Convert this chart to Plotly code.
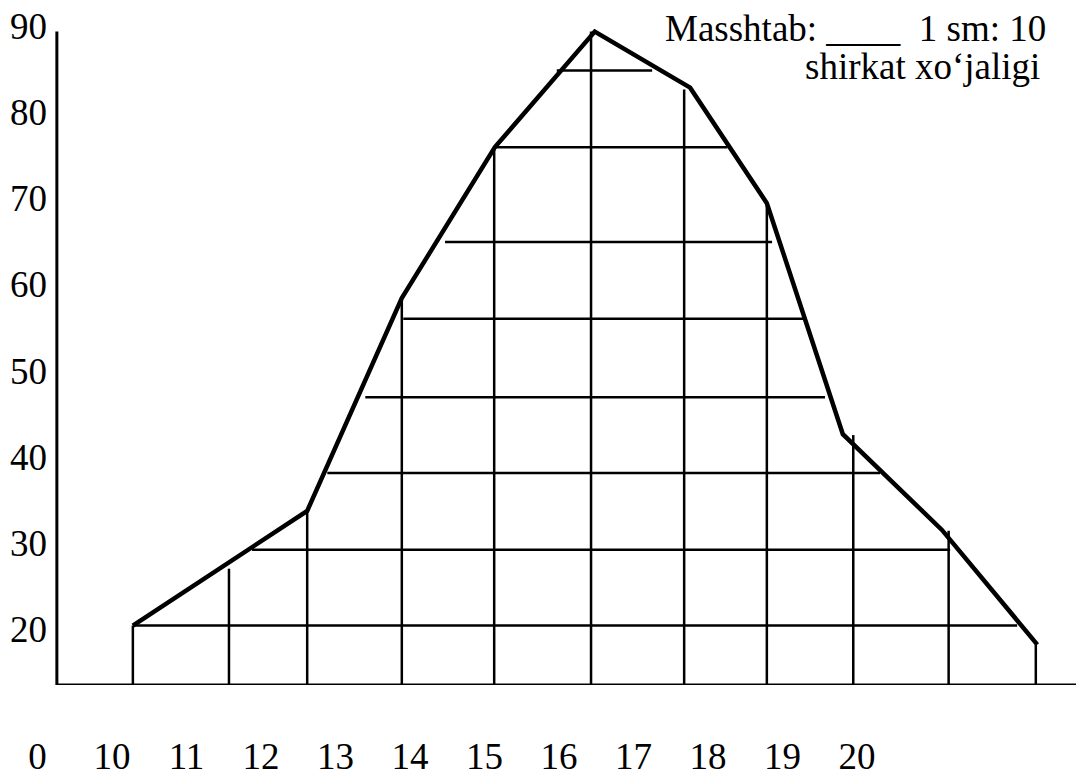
import plotly.graph_objects as go

# ---- data (x in label units: "0" sits at 9, then 10..20) ----
x_tickvals = [9, 10, 11, 12, 13, 14, 15, 16, 17, 18, 19, 20]
x_ticktext = ["0", "10", "11", "12", "13", "14", "15", "16", "17", "18", "19", "20"]
y_tickvals = [20, 30, 40, 50, 60, 70, 80, 90]

# polygon (thick outline)
poly_x = [10.28, 12.62, 13.89, 15.14, 16.48, 17.76, 18.79, 19.81, 21.14, 22.42]
poly_y = [20.2, 33.5, 58.2, 75.7, 89.1, 82.6, 69.2, 42.4, 31.3, 18.0]

# vertical grid lines: x position and top value (they start on the base axis)
vert_x = [10.28, 11.57, 12.62, 13.89, 15.13, 16.43, 17.68, 18.79, 19.95, 21.23, 22.40]
vert_top = [20.2, 26.8, 33.5, 58.2, 75.7, 89.1, 82.4, 69.2, 42.3, 31.2, 18.0]

# horizontal grid lines: level, left end, right end
horiz_y = [20.2, 29.0, 37.9, 46.7, 55.8, 64.7, 75.7, 84.6]
horiz_x0 = [10.28, 11.88, 12.89, 13.40, 13.91, 14.47, 15.14, 15.97]
horiz_x1 = [22.15, 21.25, 20.31, 19.57, 19.28, 18.86, 18.26, 17.25]

# axis frame
AXIS_X0 = 9.26
AXIS_X1 = 23.05
AXIS_Y0 = 13.31
AXIS_Y1 = 89.1

X_RANGE = [8.604, 23.047]
Y_RANGE = [13.31, 91.84]

title_line1 = "Masshtab: ____\u00a0\u00a01 sm: 10"
title_line2 = "shirkat xo\u2018jaligi"

FONT = "Liberation Serif, Times New Roman, serif"
FS = 37
W, H = 1076, 765          # page body adds an 8px margin
MB = 88
PLOT_H = H - MB

fig = go.Figure()

# vertical grid lines
vx, vy = [], []
for x, t in zip(vert_x, vert_top):
    vx += [x, x, None]
    vy += [AXIS_Y0, t, None]
fig.add_trace(go.Scatter(x=vx, y=vy, mode="lines",
                         line=dict(color="black", width=2.5),
                         hoverinfo="skip", showlegend=False))

# horizontal grid lines
hx, hy = [], []
for y, a, b in zip(horiz_y, horiz_x0, horiz_x1):
    hx += [a, b, None]
    hy += [y, y, None]
fig.add_trace(go.Scatter(x=hx, y=hy, mode="lines",
                         line=dict(color="black", width=2.5),
                         hoverinfo="skip", showlegend=False))

# axes frame
fig.add_trace(go.Scatter(x=[AXIS_X0, AXIS_X0, AXIS_X1], y=[AXIS_Y1, AXIS_Y0, AXIS_Y0],
                         mode="lines", line=dict(color="black", width=3),
                         hoverinfo="skip", showlegend=False))

# polygon outline
fig.add_trace(go.Scatter(x=poly_x, y=poly_y, mode="lines",
                         line=dict(color="black", width=4.5),
                         hoverinfo="skip", showlegend=False))

fig.update_layout(
    width=W, height=H,
    margin=dict(l=0, r=0, t=0, b=MB, pad=0),
    paper_bgcolor="white", plot_bgcolor="white",
    font=dict(family=FONT, size=FS, color="black"),
    showlegend=False,
    xaxis=dict(range=X_RANGE, domain=[0, 1], tickmode="array",
               tickvals=x_tickvals, ticktext=x_ticktext,
               showline=False, showgrid=False, zeroline=False, ticks="",
               ticklabelstandoff=46, automargin=False, ticklabeloverflow="allow",
               tickfont=dict(family=FONT, size=FS, color="black")),
    yaxis=dict(range=Y_RANGE, domain=[0, 1], tickmode="array",
               tickvals=y_tickvals, anchor="free", position=49 / W,
               showline=False, showgrid=False, zeroline=False, ticks="",
               ticklabelstandoff=10, ticklabelshift=2, automargin=False,
               ticklabeloverflow="allow",
               tickfont=dict(family=FONT, size=FS, color="black")),
    annotations=[
        dict(text=title_line1, xref="paper", yref="paper",
             x=655 / W, y=(PLOT_H - 21) / PLOT_H, xanchor="left", yanchor="middle",
             showarrow=False, font=dict(family=FONT, size=FS, color="black")),
        dict(text=title_line2, xref="paper", yref="paper",
             x=795 / W, y=(PLOT_H - 59) / PLOT_H, xanchor="left", yanchor="middle",
             showarrow=False, font=dict(family=FONT, size=FS, color="black")),
    ],
)

fig.write_html("out.html")
